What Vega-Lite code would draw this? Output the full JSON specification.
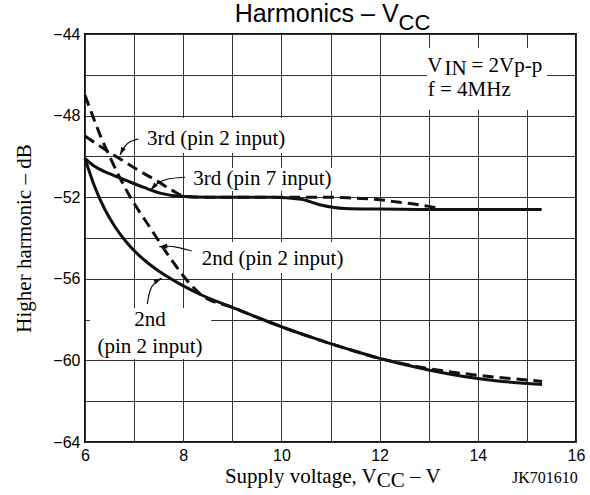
{
  "$schema": "https://vega.github.io/schema/vega-lite/v6.json",
  "width": 491,
  "height": 408,
  "autosize": {"type": "none"},
  "padding": {"left": 85, "top": 34, "right": 14, "bottom": 53},
  "background": "white",
  "config": {"view": {"stroke": "#111", "strokeWidth": 2}},
  "datasets": {
    "curves": [
      {"curve": "3rd, pin 7 input", "x": 6.0, "y": -50.1},
      {"curve": "3rd, pin 7 input", "x": 6.17, "y": -50.45},
      {"curve": "3rd, pin 7 input", "x": 6.5, "y": -50.85},
      {"curve": "3rd, pin 7 input", "x": 6.85, "y": -51.19},
      {"curve": "3rd, pin 7 input", "x": 7.2, "y": -51.52},
      {"curve": "3rd, pin 7 input", "x": 7.53, "y": -51.8},
      {"curve": "3rd, pin 7 input", "x": 8.0, "y": -51.97},
      {"curve": "3rd, pin 7 input", "x": 8.5, "y": -52.0},
      {"curve": "3rd, pin 7 input", "x": 9.0, "y": -52.0},
      {"curve": "3rd, pin 7 input", "x": 9.8, "y": -52.0},
      {"curve": "3rd, pin 7 input", "x": 10.4, "y": -52.1},
      {"curve": "3rd, pin 7 input", "x": 10.8, "y": -52.38},
      {"curve": "3rd, pin 7 input", "x": 11.3, "y": -52.55},
      {"curve": "3rd, pin 7 input", "x": 12.0, "y": -52.58},
      {"curve": "3rd, pin 7 input", "x": 13.0, "y": -52.6},
      {"curve": "3rd, pin 7 input", "x": 14.0, "y": -52.6},
      {"curve": "3rd, pin 7 input", "x": 15.3, "y": -52.6},
      {"curve": "3rd, pin 2 input", "x": 6.0, "y": -49.0},
      {"curve": "3rd, pin 2 input", "x": 6.4, "y": -49.65},
      {"curve": "3rd, pin 2 input", "x": 6.7, "y": -50.1},
      {"curve": "3rd, pin 2 input", "x": 7.1, "y": -50.7},
      {"curve": "3rd, pin 2 input", "x": 7.5, "y": -51.25},
      {"curve": "3rd, pin 2 input", "x": 7.8, "y": -51.7},
      {"curve": "3rd, pin 2 input", "x": 8.0, "y": -51.93},
      {"curve": "3rd, pin 2 input", "x": 8.3, "y": -52.0},
      {"curve": "3rd, pin 2 input", "x": 9.0, "y": -52.0},
      {"curve": "3rd, pin 2 input", "x": 10.0, "y": -52.0},
      {"curve": "3rd, pin 2 input", "x": 11.0, "y": -52.0},
      {"curve": "3rd, pin 2 input", "x": 11.5, "y": -52.05},
      {"curve": "3rd, pin 2 input", "x": 11.9, "y": -52.1},
      {"curve": "3rd, pin 2 input", "x": 12.4, "y": -52.25},
      {"curve": "3rd, pin 2 input", "x": 13.0, "y": -52.45},
      {"curve": "3rd, pin 2 input", "x": 13.2, "y": -52.55},
      {"curve": "2nd, pin 2 input (lower)", "x": 6.0, "y": -50.1},
      {"curve": "2nd, pin 2 input (lower)", "x": 6.2, "y": -51.5},
      {"curve": "2nd, pin 2 input (lower)", "x": 6.4, "y": -52.58},
      {"curve": "2nd, pin 2 input (lower)", "x": 6.6, "y": -53.41},
      {"curve": "2nd, pin 2 input (lower)", "x": 6.85, "y": -54.22},
      {"curve": "2nd, pin 2 input (lower)", "x": 7.1, "y": -54.85},
      {"curve": "2nd, pin 2 input (lower)", "x": 7.3, "y": -55.26},
      {"curve": "2nd, pin 2 input (lower)", "x": 7.6, "y": -55.78},
      {"curve": "2nd, pin 2 input (lower)", "x": 7.9, "y": -56.21},
      {"curve": "2nd, pin 2 input (lower)", "x": 8.1, "y": -56.47},
      {"curve": "2nd, pin 2 input (lower)", "x": 8.35, "y": -56.77},
      {"curve": "2nd, pin 2 input (lower)", "x": 9.0, "y": -57.4},
      {"curve": "2nd, pin 2 input (lower)", "x": 9.57, "y": -57.95},
      {"curve": "2nd, pin 2 input (lower)", "x": 10.0, "y": -58.35},
      {"curve": "2nd, pin 2 input (lower)", "x": 10.59, "y": -58.85},
      {"curve": "2nd, pin 2 input (lower)", "x": 11.0, "y": -59.18},
      {"curve": "2nd, pin 2 input (lower)", "x": 11.5, "y": -59.55},
      {"curve": "2nd, pin 2 input (lower)", "x": 12.0, "y": -59.9},
      {"curve": "2nd, pin 2 input (lower)", "x": 12.5, "y": -60.2},
      {"curve": "2nd, pin 2 input (lower)", "x": 13.0, "y": -60.47},
      {"curve": "2nd, pin 2 input (lower)", "x": 13.5, "y": -60.7},
      {"curve": "2nd, pin 2 input (lower)", "x": 14.0, "y": -60.89},
      {"curve": "2nd, pin 2 input (lower)", "x": 14.5, "y": -61.03},
      {"curve": "2nd, pin 2 input (lower)", "x": 15.0, "y": -61.13},
      {"curve": "2nd, pin 2 input (lower)", "x": 15.31, "y": -61.18},
      {"curve": "2nd, pin 2 input (upper)", "x": 6.0, "y": -47.0},
      {"curve": "2nd, pin 2 input (upper)", "x": 6.17, "y": -48.1},
      {"curve": "2nd, pin 2 input (upper)", "x": 6.35, "y": -49.2},
      {"curve": "2nd, pin 2 input (upper)", "x": 6.52, "y": -50.1},
      {"curve": "2nd, pin 2 input (upper)", "x": 6.7, "y": -51.0},
      {"curve": "2nd, pin 2 input (upper)", "x": 6.9, "y": -51.9},
      {"curve": "2nd, pin 2 input (upper)", "x": 7.1, "y": -52.68},
      {"curve": "2nd, pin 2 input (upper)", "x": 7.3, "y": -53.4},
      {"curve": "2nd, pin 2 input (upper)", "x": 7.53, "y": -54.25},
      {"curve": "2nd, pin 2 input (upper)", "x": 7.8, "y": -55.2},
      {"curve": "2nd, pin 2 input (upper)", "x": 8.0, "y": -55.85},
      {"curve": "2nd, pin 2 input (upper)", "x": 8.2, "y": -56.4},
      {"curve": "2nd, pin 2 input (upper)", "x": 8.35, "y": -56.75},
      {"curve": "2nd, pin 2 input (upper)", "x": 9.0, "y": -57.4},
      {"curve": "2nd, pin 2 input (upper)", "x": 9.57, "y": -57.95},
      {"curve": "2nd, pin 2 input (upper)", "x": 10.0, "y": -58.35},
      {"curve": "2nd, pin 2 input (upper)", "x": 10.59, "y": -58.85},
      {"curve": "2nd, pin 2 input (upper)", "x": 11.0, "y": -59.18},
      {"curve": "2nd, pin 2 input (upper)", "x": 11.5, "y": -59.55},
      {"curve": "2nd, pin 2 input (upper)", "x": 12.0, "y": -59.9},
      {"curve": "2nd, pin 2 input (upper)", "x": 12.5, "y": -60.17},
      {"curve": "2nd, pin 2 input (upper)", "x": 13.0, "y": -60.4},
      {"curve": "2nd, pin 2 input (upper)", "x": 14.0, "y": -60.73},
      {"curve": "2nd, pin 2 input (upper)", "x": 15.0, "y": -60.96},
      {"curve": "2nd, pin 2 input (upper)", "x": 15.31, "y": -61.03}
    ],
    "boxes": [
      {"x": 12.965, "xEnd": 15.409, "y": -44.686, "yEnd": -47.725},
      {"x": 7.18, "xEnd": 10.22, "y": -48.118, "yEnd": -49.833},
      {"x": 8.118, "xEnd": 11.13, "y": -50.57, "yEnd": -51.696},
      {"x": 8.281, "xEnd": 11.377, "y": -54.196, "yEnd": -55.716},
      {"x": 6.1, "xEnd": 8.57, "y": -57.43, "yEnd": -59.93}
    ],
    "arrows": [
      {"arrow": 1, "i": 1, "x": 7.086, "y": -49.147},
      {"arrow": 1, "i": 2, "x": 6.882, "y": -49.279},
      {"arrow": 1, "i": 3, "x": 6.78, "y": -49.603},
      {"arrow": 1, "i": 4, "x": 6.713, "y": -49.931},
      {"arrow": 2, "i": 1, "x": 8.037, "y": -51.025},
      {"arrow": 2, "i": 2, "x": 7.664, "y": -51.074},
      {"arrow": 2, "i": 3, "x": 7.46, "y": -51.319},
      {"arrow": 2, "i": 4, "x": 7.338, "y": -51.647},
      {"arrow": 3, "i": 1, "x": 8.173, "y": -54.637},
      {"arrow": 3, "i": 2, "x": 7.868, "y": -54.426},
      {"arrow": 3, "i": 3, "x": 7.664, "y": -54.392},
      {"arrow": 3, "i": 4, "x": 7.513, "y": -54.426},
      {"arrow": 4, "i": 1, "x": 7.269, "y": -57.235},
      {"arrow": 4, "i": 2, "x": 7.31, "y": -56.549},
      {"arrow": 4, "i": 3, "x": 7.426, "y": -56.142},
      {"arrow": 4, "i": 4, "x": 7.562, "y": -55.975}
    ],
    "notesLeft": [
      {"x": 7.263, "y": -49.441, "text": "3rd (pin 2 input)"},
      {"x": 8.206, "y": -51.402, "text": "3rd (pin 7 input)"},
      {"x": 8.377, "y": -55.324, "text": "2nd (pin 2 input)"},
      {"x": 13.32, "y": -46.0, "text": "IN"},
      {"x": 13.87, "y": -45.848, "text": "= 2Vp-p"},
      {"x": 12.98, "y": -47.06, "text": "f = 4MHz"},
      {"x": 11.943, "y": -66.206, "text": "CC"},
      {"x": 12.62, "y": -66.0, "text": "– V"}
    ],
    "notesCenter": [
      {"x": 7.324, "y": -58.314, "text": "2nd"},
      {"x": 7.324, "y": -59.652, "text": "(pin 2 input)"}
    ],
    "notesRight": [
      {"x": 13.28, "y": -45.848, "text": "V"},
      {"x": 11.943, "y": -66.0, "text": "Supply voltage, V"}
    ],
    "code": [{"x": 14.697, "y": -66.01, "text": "JK701610"}],
    "titleMain": [{"x": 12.387, "y": -43.43, "text": "Harmonics – V"}],
    "titleSub": [{"x": 12.387, "y": -43.8, "text": "CC"}]
  },
  "encoding": {
    "x": {"field": "x", "type": "quantitative", "scale": {"domain": [6, 16], "nice": false, "zero": false},
      "axis": {"values": [6, 7, 8, 9, 10, 11, 12, 13, 14, 15, 16], "grid": true, "gridColor": "#333", "gridWidth": 1, "ticks": false, "domain": false,
        "labelExpr": "datum.value % 2 === 0 ? datum.label : ''", "labelFont": "Liberation Sans", "labelFontSize": 16, "labelColor": "#000",
        "labelPadding": 5, "labelFlush": false, "labelOverlap": false, "title": null}},
    "y": {"field": "y", "type": "quantitative", "scale": {"domain": [-64, -44], "nice": false, "zero": false},
      "axis": {"values": [-64, -62, -60, -58, -56, -54, -52, -50, -48, -46, -44], "grid": true, "gridColor": "#333", "gridWidth": 1, "ticks": false, "domain": false,
        "labelExpr": "datum.value % 4 === 0 ? datum.label : ''", "labelFont": "Liberation Sans", "labelFontSize": 16, "labelColor": "#000",
        "labelPadding": 5, "labelOverlap": false,
        "title": "Higher harmonic – dB", "titleFont": "Liberation Serif", "titleFontSize": 21, "titleFontWeight": "normal", "titleColor": "#000",
        "titleX": -55, "titleY": 204, "titleAngle": 270, "titleBaseline": "alphabetic", "titleAlign": "center"}}
  },
  "layer": [
    {
      "data": {"name": "boxes"},
      "mark": {"type": "rect", "fill": "white", "strokeWidth": 0},
      "encoding": {
        "x2": {"field": "xEnd"},
        "y2": {"field": "yEnd"}
      }
    },
    {
      "data": {"name": "curves"},
      "transform": [{"filter": "datum.curve === '3rd, pin 7 input' || datum.curve === '2nd, pin 2 input (lower)'"}],
      "mark": {"type": "line", "color": "#111", "strokeWidth": 3, "interpolate": "monotone"},
      "encoding": {"detail": {"field": "curve"}}
    },
    {
      "data": {"name": "curves"},
      "transform": [{"filter": "datum.curve === '3rd, pin 2 input' || datum.curve === '2nd, pin 2 input (upper)'"}],
      "mark": {"type": "line", "color": "#111", "strokeWidth": 3, "interpolate": "monotone", "strokeDash": [11, 6]},
      "encoding": {"detail": {"field": "curve"}}
    },
    {
      "data": {"name": "arrows"},
      "mark": {"type": "line", "color": "#111", "strokeWidth": 1.2, "interpolate": "basis"},
      "encoding": {"detail": {"field": "arrow"}, "order": {"field": "i"}}
    },
    {
      "data": {"name": "arrows"},
      "transform": [{"filter": "datum.arrow === 1 && datum.i === 4"}],
      "mark": {"type": "point", "shape": "M0,0L0.5,1.6L-0.5,1.6Z", "size": 100, "filled": true, "color": "#111", "opacity": 1, "angle": 206},
      "encoding": {}
    },
    {
      "data": {"name": "arrows"},
      "transform": [{"filter": "datum.arrow === 2 && datum.i === 4"}],
      "mark": {"type": "point", "shape": "M0,0L0.5,1.6L-0.5,1.6Z", "size": 100, "filled": true, "color": "#111", "opacity": 1, "angle": 222},
      "encoding": {}
    },
    {
      "data": {"name": "arrows"},
      "transform": [{"filter": "datum.arrow === 3 && datum.i === 4"}],
      "mark": {"type": "point", "shape": "M0,0L0.5,1.6L-0.5,1.6Z", "size": 100, "filled": true, "color": "#111", "opacity": 1, "angle": 265},
      "encoding": {}
    },
    {
      "data": {"name": "arrows"},
      "transform": [{"filter": "datum.arrow === 4 && datum.i === 4"}],
      "mark": {"type": "point", "shape": "M0,0L0.5,1.6L-0.5,1.6Z", "size": 100, "filled": true, "color": "#111", "opacity": 1, "angle": 63},
      "encoding": {}
    },
    {
      "data": {"name": "notesLeft"},
      "mark": {"type": "text", "font": "Liberation Serif", "fontSize": 21, "align": "left", "baseline": "alphabetic", "color": "#000"},
      "encoding": {"text": {"field": "text"}}
    },
    {
      "data": {"name": "notesCenter"},
      "mark": {"type": "text", "font": "Liberation Serif", "fontSize": 21, "align": "center", "baseline": "alphabetic", "color": "#000"},
      "encoding": {"text": {"field": "text"}}
    },
    {
      "data": {"name": "notesRight"},
      "mark": {"type": "text", "font": "Liberation Serif", "fontSize": 21, "align": "right", "baseline": "alphabetic", "color": "#000"},
      "encoding": {"text": {"field": "text"}}
    },
    {
      "data": {"name": "code"},
      "mark": {"type": "text", "font": "Liberation Serif", "fontSize": 16, "align": "left", "baseline": "alphabetic", "color": "#000"},
      "encoding": {"text": {"field": "text"}}
    },
    {
      "data": {"name": "titleMain"},
      "mark": {"type": "text", "font": "Liberation Sans", "fontSize": 25, "align": "right", "baseline": "alphabetic", "color": "#000"},
      "encoding": {"text": {"field": "text"}}
    },
    {
      "data": {"name": "titleSub"},
      "mark": {"type": "text", "font": "Liberation Sans", "fontSize": 22, "align": "left", "baseline": "alphabetic", "color": "#000"},
      "encoding": {"text": {"field": "text"}}
    }
  ]
}
